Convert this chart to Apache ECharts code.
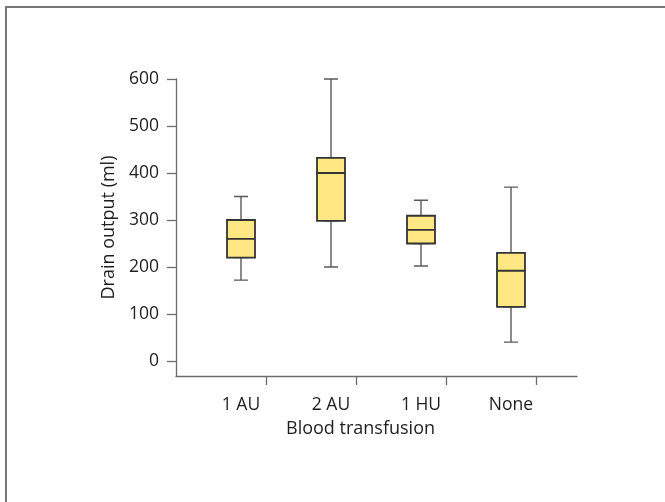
<!DOCTYPE html>
<html>
<head>
<meta charset="utf-8">
<script src="https://cdn.jsdelivr.net/npm/echarts@6/dist/echarts.min.js"></script>
<style>
  html, body { margin: 0; padding: 0; background: #fff; }
  body { width: 665px; height: 502px; overflow: hidden; position: relative; }
  #frame { position: absolute; left: 5px; top: 6px; width: 700px; height: 600px;
           border-left: 2px solid #777; border-top: 2px solid #777; box-sizing: border-box; }
  #chart { position: absolute; left: 0; top: 0; width: 665px; height: 502px; }
</style>
</head>
<body>
<div id="frame"></div>
<div id="chart"></div>
<script>
// Data
const categories = ['1 AU', '2 AU', '1 HU', 'None'];
const whiskerMin = [172, 200, 202, 40];
const q1 = [220, 298, 250, 115];
const median = [260, 400, 279, 192];
const q3 = [300, 432, 309, 230];
const whiskerMax = [350, 600, 342, 370];
const yTicks = [0, 100, 200, 300, 400, 500, 600];
const yAxisMin = -32;
const yName = 'Drain output (ml)';
const xName = 'Blood transfusion';

const fullData = categories.map((c, i) => [whiskerMin[i], q1[i], median[i], q3[i], whiskerMax[i]]);
const boxData = categories.map((c, i) => [q1[i], q1[i], median[i], q3[i], q3[i]]);
const catIndex = categories.map((c, i) => i);

const FONT = 'Open Sans';
const TXT = '#1e1e1e';
const AX = '#6b6b6b';
const LBL = 17.5;
const NAME = 18;
const xMin = -65 / 90;
const xMax = (categories.length - 1) + 66 / 90;

const hidden = { show: false };

const chart = echarts.init(document.getElementById('chart'), null, { renderer: 'canvas' });
chart.setOption({
  animation: false,
  backgroundColor: 'transparent',
  title: {
    text: xName, left: 286, top: 420, padding: 0,
    textStyle: { fontFamily: FONT, fontSize: NAME, fontWeight: 'normal', color: TXT }
  },
  grid: [
    { left: 176, right: 88, top: 79, bottom: 126 },
    { left: 196, right: 109, top: 79, bottom: 126 },
    { left: 176, right: 88, top: 376, bottom: 117 }
  ],
  xAxis: [
    { gridIndex: 0, type: 'value', min: xMin, max: xMax,
      axisLine: { show: true, onZero: false, lineStyle: { color: AX, width: 1.3 } },
      axisTick: hidden,
      axisLabel: { show: true, margin: 20, customValues: catIndex,
        formatter: v => categories[Math.round(v)] || '',
        fontFamily: FONT, fontSize: LBL, color: TXT },
      splitLine: hidden },
    { gridIndex: 1, type: 'category', data: categories, show: false },
    { gridIndex: 1, type: 'category', data: categories, show: false },
    // thin strip below the axis line: its split lines form the category ticks
    { gridIndex: 2, type: 'value', min: xMin, max: xMax, interval: 1,
      axisLine: { show: false, onZero: false }, axisTick: hidden, axisLabel: hidden,
      splitLine: { show: true, showMinLine: false, showMaxLine: false,
        lineStyle: { color: AX, width: 1.3 } } }
  ],
  yAxis: [
    { gridIndex: 0, type: 'value', min: 0, max: 1,
      axisLine: { show: true, onZero: false, lineStyle: { color: AX, width: 1.3 } },
      axisTick: hidden, axisLabel: hidden, splitLine: hidden },
    { gridIndex: 1, type: 'value', min: yAxisMin, max: yTicks[yTicks.length - 1], offset: 20,
      axisLine: { show: false, onZero: false },
      axisTick: { show: true, length: 9, customValues: yTicks, lineStyle: { color: AX, width: 1.3 } },
      axisLabel: { margin: 17, customValues: yTicks, fontFamily: FONT, fontSize: LBL, color: TXT },
      splitLine: hidden,
      name: yName, nameLocation: 'middle', nameGap: 52,
      nameTextStyle: { fontFamily: FONT, fontSize: NAME, color: TXT } },
    { gridIndex: 2, type: 'value', min: 0, max: 1, show: false }
  ],
  series: [
    { type: 'boxplot', xAxisIndex: 2, yAxisIndex: 1, boxWidth: [14, 14],
      data: fullData,
      itemStyle: { color: '#FFE784', borderColor: '#5a5a5a', borderWidth: 1.4 },
      emphasis: { disabled: true } },
    { type: 'boxplot', xAxisIndex: 1, yAxisIndex: 1, boxWidth: [28, 28],
      data: boxData,
      itemStyle: { color: '#FFE784', borderColor: '#333333', borderWidth: 1.8 },
      emphasis: { disabled: true } }
  ]
});
</script>
</body>
</html>
